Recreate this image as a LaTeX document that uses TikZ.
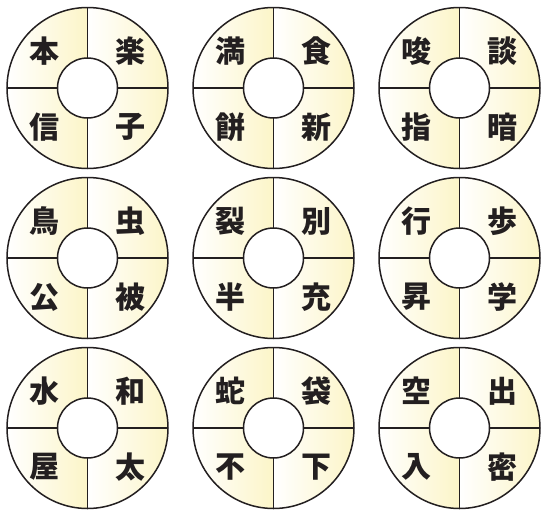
\documentclass[tikz,border=0pt]{standalone}
\usepackage{fontspec}
\newfontfamily\kanji{Noto Sans CJK JP}
\definecolor{ringline}{RGB}{35,31,32}
\definecolor{ringfill}{RGB}{252,245,200}

\begin{document}
\begin{tikzpicture}[x=1pt, y=1pt,
    quarter/.style={left color=white, right color=ringfill},
    rim/.style={draw=ringline, line width=1.5pt},
    glyph/.style={font=\kanji\bfseries\fontsize{30}{30}\selectfont, text=ringline, inner sep=0pt}
]
\useasboundingbox (0,0) rectangle (541,-509);
\foreach \cx/\cy/\tl/\tr/\bl/\br [count=\i] in {
    87.5/-88/本/楽/信/子, 273.5/-88/満/食/餅/新, 459.5/-88/唆/談/指/暗,
    87.5/-258/鳥/虫/公/被, 273.5/-258/裂/別/半/充, 459.5/-258/行/歩/昇/学,
    87.5/-428/水/和/屋/太, 273.5/-428/蛇/袋/不/下, 459.5/-428/空/出/入/密}
{
  \begin{scope}[shift={(\cx,\cy)}]
    % each quarter fades from white (left) to yellow (right)
    \foreach \s in {0,90,180,270}
      \shade[quarter] (\s:80.5) arc[start angle=\s, end angle=\s+90, radius=80.5]
        -- (\s+90:30) arc[start angle=\s+90, end angle=\s, radius=30] -- cycle;
    \draw[rim] (0,0) circle[radius=80.5] (0,0) circle[radius=30];
    \foreach \s in {0,90,180,270}
      \draw[rim] (\s:30) -- (\s:80.5);
    \node[glyph] (tl\i) at (-43,37) {\tl};
    \node[glyph] (tr\i) at (43,37) {\tr};
    \node[glyph] (bl\i) at (-43,-39) {\bl};
    \node[glyph] (br\i) at (43,-39) {\br};
  \end{scope}
}
\end{tikzpicture}
\end{document}
